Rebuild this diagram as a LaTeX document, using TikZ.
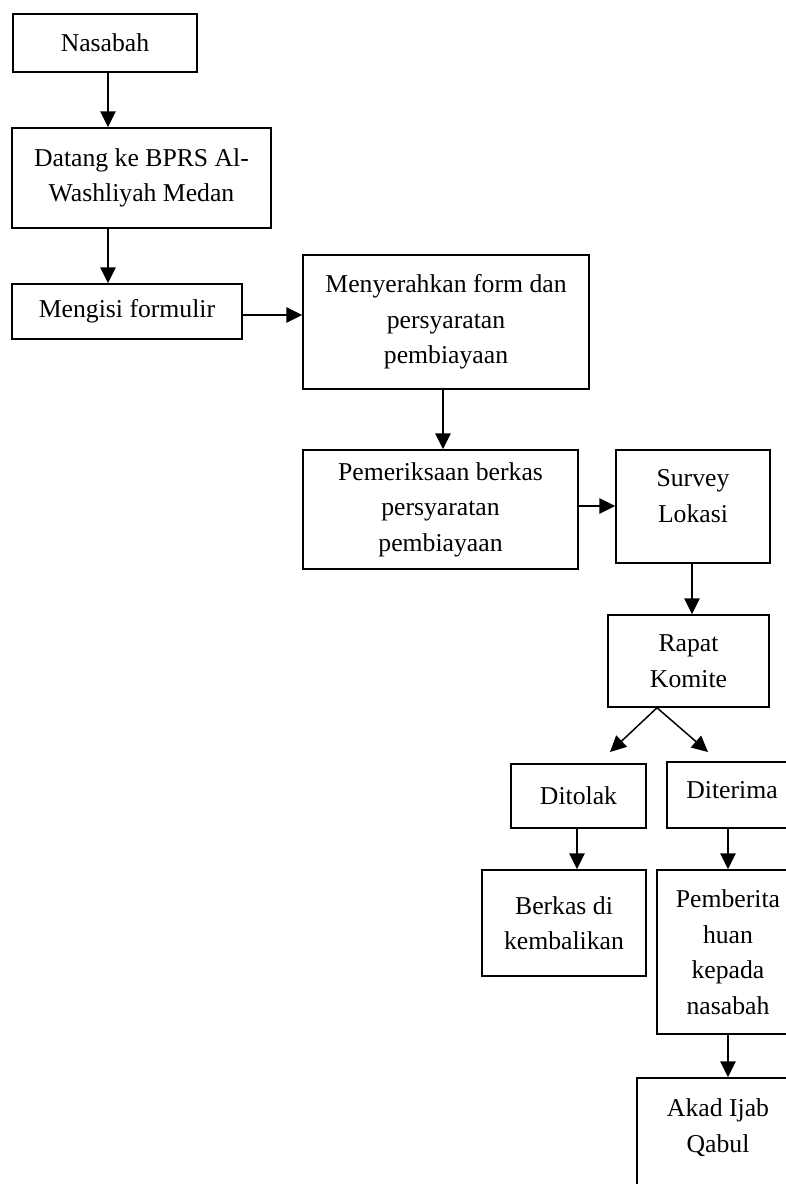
\documentclass[tikz,border=0pt]{standalone}
\usepackage{fontspec}
\setmainfont{Liberation Serif}
\usetikzlibrary{arrows.meta}
\begin{document}
\begin{tikzpicture}[x=1pt,y=-1pt,
 box/.style={draw, line width=1.5pt, inner sep=0pt, align=center, font=\fontsize{25.7}{35.5}\selectfont},
 txt/.style={inner sep=0pt, align=center, font=\fontsize{25.7}{36}\selectfont},
 arr/.style={line width=1.5pt, -{Triangle[length=16pt,width=15.5pt]}}]
\fill[white] (0,0) rectangle (786,1184);
\useasboundingbox (0,0) rectangle (786,1184);
\node[box, minimum width=184, minimum height=58] (nas) at (105,43) {Nasabah};
\node[box, minimum width=259, minimum height=100] (dat) at (141.5,178) {Datang ke BPRS Al-\\Washliyah Medan};
\node[box, minimum width=230, minimum height=55] (men) at (127,311.5) {Mengisi formulir};
\node[box, minimum width=286, minimum height=134] (ser) at (446,322) {Menyerahkan form dan\\persyaratan\\pembiayaan};
\node[box, minimum width=275, minimum height=119] (pem) at (440.5,509.5) {Pemeriksaan berkas\\persyaratan\\pembiayaan};
\node[box, minimum width=154, minimum height=113] (sur) at (693,506.5) {};
\node[txt] (surT) at (693,496) {Survey\\Lokasi};
\node[box, minimum width=161, minimum height=92] (rap) at (688.5,661) {Rapat\\Komite};
\node[box, minimum width=135, minimum height=64] (tol) at (578.5,796) {Ditolak};
\node[box, minimum width=131, minimum height=66] (ter) at (732.5,795) {};
\node[txt] (terT) at (732,790) {Diterima};
\node[box, minimum width=164, minimum height=106] (bks) at (564,923) {Berkas di\\kembalikan};
\node[box, minimum width=142, minimum height=164] (pbr) at (728,952) {Pemberita\\huan\\kepada\\nasabah};
\node[box, minimum width=162, minimum height=117] (akd) at (718,1136.5) {};
\node[txt] (akdT) at (718,1128) {Akad Ijab\\Qabul};
\coordinate (dl) at (610,752);
\coordinate (dr) at (708,752);
\draw[arr] ([xshift=3pt]nas.south) -- ([xshift=3pt]nas.south |- dat.north);
\draw[arr] ([xshift=3pt]nas.south |- dat.south) -- ([xshift=3pt]nas.south |- men.north);
\draw[arr] ([yshift=-3.5pt]men.east) -- ([yshift=-3.5pt]men.east -| ser.west);
\draw[arr] ([xshift=-3pt]ser.south) -- ([xshift=-3pt]ser.south |- pem.north);
\draw[arr] ([yshift=3.5pt]pem.east) -- ([yshift=3.5pt]pem.east -| sur.west);
\draw[arr] ([xshift=-1pt]sur.south) -- ([xshift=-1pt]sur.south |- rap.north);
\draw[arr] ([xshift=-31.5pt]rap.south) -- (dl);
\draw[arr] ([xshift=-31.5pt]rap.south) -- (dr);
\draw[arr] ([xshift=-1.5pt]tol.south) -- ([xshift=-1.5pt]tol.south |- bks.north);
\draw[arr] (ter.south -| pbr.north) -- (pbr.north);
\draw[arr] (pbr.south) -- (pbr.south |- akd.north);
\end{tikzpicture}
\end{document}
